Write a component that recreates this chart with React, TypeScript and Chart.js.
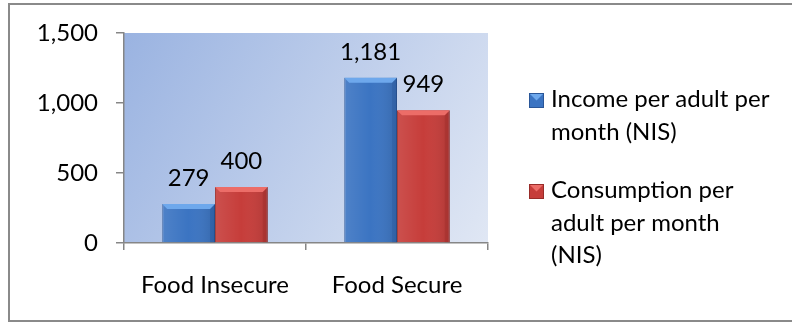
import React, { useEffect, useRef } from "react";
import { Chart, registerables } from "chart.js";

Chart.register(...registerables);

const categories = ["Food Insecure", "Food Secure"];
const incomeValues = [279, 1181];
const consumptionValues = [400, 949];
const seriesLegend = [
  ["Income per adult per", "month (NIS)"],
  ["Consumption per", "adult per month", "(NIS)"],
];
const yMin = 0;
const yMax = 1500;
const yStep = 500;

const FONT = "Lato, 'Noto Sans', sans-serif";
const BLUE = "#3b74c2";
const RED = "#c63d3a";
const BLUE_TOP = "#6ea8ec";
const RED_TOP = "#ec6d68";
const BLUE_DARK = "#2a5698";
const RED_DARK = "#982c29";

const fmt = (v: number) => v.toLocaleString("en-US");

export default function App() {
  const ref = useRef<HTMLCanvasElement | null>(null);

  useEffect(() => {
    document.body.style.margin = "0";
    document.body.style.overflow = "hidden";
    const canvas = ref.current;
    if (!canvas) return;

    const framePlugin = {
      id: "frameAndBg",
      beforeDraw(chart: any) {
        const { ctx, chartArea } = chart;
        ctx.save();
        ctx.fillStyle = "#ffffff";
        ctx.fillRect(0, 0, chart.width, chart.height);
        ctx.strokeStyle = "#8a8a8a";
        ctx.lineWidth = 2;
        ctx.strokeRect(9, 4, chart.width + 20, 317);
        const g = ctx.createLinearGradient(chartArea.left, chartArea.top, chartArea.right, chartArea.bottom);
        g.addColorStop(0, "#9ab3e1");
        g.addColorStop(1, "#e0e7f4");
        ctx.fillStyle = g;
        ctx.fillRect(chartArea.left, chartArea.top, chartArea.right - chartArea.left, chartArea.bottom - chartArea.top);
        ctx.restore();
      },
    };

    const decoPlugin = {
      id: "deco",
      afterDatasetsDraw(chart: any) {
        const { ctx } = chart;
        ctx.save();
        chart.data.datasets.forEach((ds: any, di: number) => {
          const meta = chart.getDatasetMeta(di);
          const top = di === 0 ? BLUE_TOP : RED_TOP;
          const dark = di === 0 ? BLUE_DARK : RED_DARK;
          meta.data.forEach((bar: any, i: number) => {
            const w = bar.width;
            const l = bar.x - w / 2;
            const r = bar.x + w / 2;
            const t = bar.y;
            const b = bar.base;
            const bev = 5;
            const gr = ctx.createLinearGradient(l, 0, r, 0);
            gr.addColorStop(0, "rgba(255,255,255,0.10)");
            gr.addColorStop(0.5, "rgba(255,255,255,0)");
            gr.addColorStop(1, "rgba(0,0,0,0.12)");
            ctx.fillStyle = gr;
            ctx.fillRect(l, t, w, b - t);
            ctx.fillStyle = dark;
            ctx.beginPath();
            ctx.moveTo(r, t);
            ctx.lineTo(r, b);
            ctx.lineTo(r - bev, b);
            ctx.lineTo(r - bev, t + bev);
            ctx.closePath();
            ctx.globalAlpha = 0.35;
            ctx.fill();
            ctx.globalAlpha = 1;
            ctx.fillStyle = top;
            ctx.beginPath();
            ctx.moveTo(l, t);
            ctx.lineTo(r, t);
            ctx.lineTo(r - bev, t + bev);
            ctx.lineTo(l + bev, t + bev);
            ctx.closePath();
            ctx.fill();
            ctx.fillStyle = "#000000";
            ctx.font = `24px ${FONT}`;
            ctx.textAlign = "center";
            ctx.textBaseline = "alphabetic";
            ctx.fillText(fmt(ds.data[i]), bar.x, t - 18);
          });
        });
        ctx.restore();
      },
    };

    const legendPlugin = {
      id: "customLegend",
      afterDraw(chart: any) {
        const { ctx, chartArea } = chart;
        ctx.save();
        ctx.font = `24px ${FONT}`;
        ctx.textAlign = "left";
        ctx.textBaseline = "alphabetic";
        const lineH = 32.5;
        let y = chartArea.top + 74;
        chart.data.datasets.forEach((ds: any, di: number) => {
          const mx = chartArea.right + 41;
          const size = 15;
          const my = y - 14;
          ctx.fillStyle = ds.backgroundColor;
          ctx.fillRect(mx, my, size, size);
          ctx.fillStyle = di === 0 ? BLUE_TOP : RED_TOP;
          ctx.beginPath();
          ctx.moveTo(mx, my);
          ctx.lineTo(mx + size, my);
          ctx.lineTo(mx + size / 2, my + size / 2);
          ctx.closePath();
          ctx.fill();
          ctx.strokeStyle = ds.borderColor;
          ctx.lineWidth = 1;
          ctx.strokeRect(mx + 0.5, my + 0.5, size - 1, size - 1);
          const lines: string[] = seriesLegend[di];
          ctx.fillStyle = "#000000";
          lines.forEach((ln, k) => ctx.fillText(ln, chartArea.right + 63, y + k * lineH));
          y += lines.length * lineH + 26;
        });
        ctx.restore();
      },
    };

    const chart = new Chart(canvas, {
      type: "bar",
      data: {
        labels: categories,
        datasets: [
          {
            label: seriesLegend[0].join(" "),
            data: incomeValues,
            backgroundColor: BLUE,
            borderColor: BLUE_DARK,
            borderWidth: 1,
            barPercentage: 1,
            categoryPercentage: 0.58,
          },
          {
            label: seriesLegend[1].join(" "),
            data: consumptionValues,
            backgroundColor: RED,
            borderColor: RED_DARK,
            borderWidth: 1,
            barPercentage: 1,
            categoryPercentage: 0.58,
          },
        ],
      },
      options: {
        responsive: false,
        animation: false,
        devicePixelRatio: 1,
        layout: { padding: { left: 0, right: 304, top: 33, bottom: 0 } },
        plugins: {
          legend: { display: false },
          tooltip: { enabled: false },
          title: { display: false },
        },
        scales: {
          x: {
            offset: true,
            grid: {
              offset: true,
              drawOnChartArea: false,
              drawTicks: true,
              tickLength: 7,
              color: "#868686",
              lineWidth: 1.5,
            },
            border: { display: true, color: "#868686", width: 1.5 },
            ticks: {
              color: "#000000",
              font: { family: FONT, size: 24 },
              padding: 21,
              maxRotation: 0,
            },
            afterFit(scale: any) {
              scale.height = 87;
            },
          },
          y: {
            min: yMin,
            max: yMax,
            grid: {
              drawOnChartArea: false,
              drawTicks: true,
              tickLength: 8,
              color: "#868686",
              lineWidth: 1.5,
            },
            border: { display: true, color: "#868686", width: 1.5 },
            ticks: {
              stepSize: yStep,
              color: "#000000",
              font: { family: FONT, size: 24 },
              padding: 18,
              callback: (v: any) => fmt(Number(v)),
            },
            afterFit(scale: any) {
              scale.width = 124;
            },
          },
        },
      },
      plugins: [framePlugin, decoPlugin, legendPlugin],
    });

    return () => chart.destroy();
  }, []);

  return (
    <div style={{ width: 792, height: 330 }}>
      <canvas ref={ref} width={792} height={330} style={{ display: "block" }} />
    </div>
  );
}
